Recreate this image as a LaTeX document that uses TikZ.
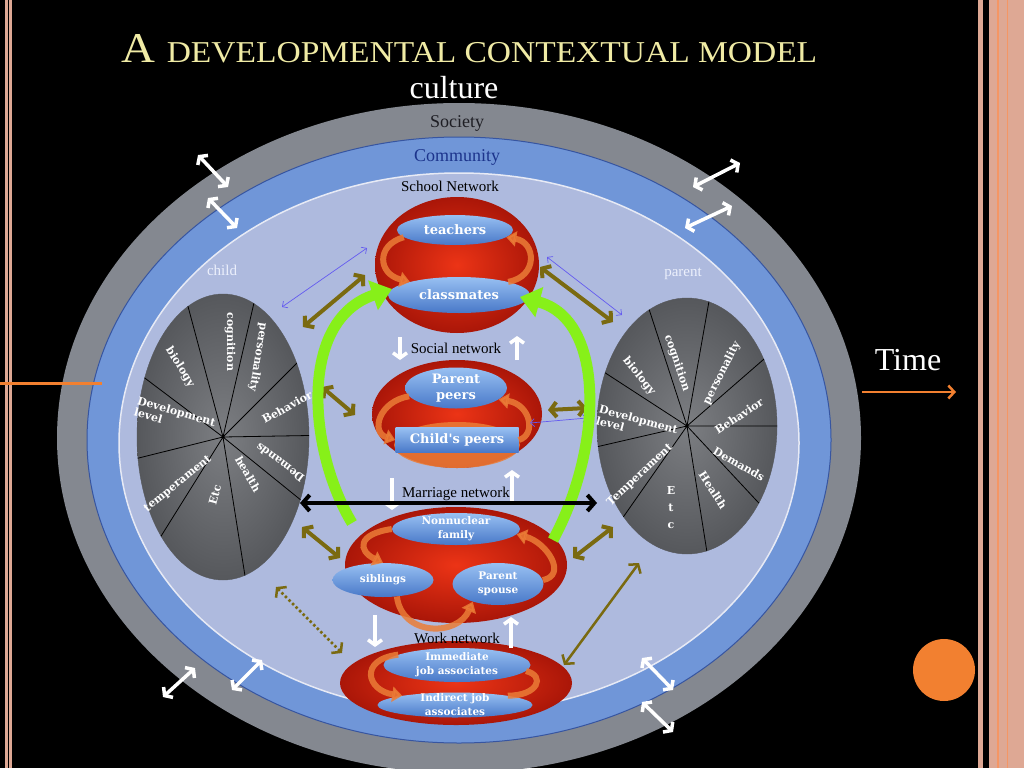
\documentclass[tikz,border=0pt]{standalone}
\usepackage{fontspec}
\usepackage{graphicx}
\setmainfont{Liberation Serif}
\newfontfamily\pillfont{DejaVu Serif}
\usetikzlibrary{positioning,arrows.meta,shapes.geometric}

\definecolor{titleyellow}{RGB}{240,235,165}
\definecolor{labeldark}{RGB}{30,30,36}
\definecolor{communitytext}{RGB}{28,52,140}
\definecolor{childwhite}{RGB}{236,240,252}
\definecolor{societygray}{RGB}{132,136,144}
\definecolor{communityblue}{RGB}{112,150,216}
\definecolor{communityline}{RGB}{55,85,160}
\definecolor{schoollav}{RGB}{174,186,222}
\definecolor{piegray}{RGB}{124,126,130}
\definecolor{piedark}{RGB}{86,88,92}
\definecolor{netred}{RGB}{236,52,22}
\definecolor{netdark}{RGB}{170,22,8}
\definecolor{pilltop}{RGB}{152,192,242}
\definecolor{pillbot}{RGB}{72,120,200}
\definecolor{oliveline}{RGB}{122,106,16}
\definecolor{linkblue}{RGB}{100,90,240}
\definecolor{brightgreen}{RGB}{135,240,25}
\definecolor{cycleorange}{RGB}{235,125,55}
\definecolor{timeorange}{RGB}{242,128,48}
\definecolor{framepink}{RGB}{222,168,148}
\definecolor{framelight}{RGB}{245,150,100}

\begin{document}
\begin{tikzpicture}[x=1pt, y=-1pt,
  pie/.style={ellipse, inner color=piegray, outer color=piedark, draw=piedark},
  pielabel/.style={text=white, inner sep=0pt, align=left, font=\pillfont\bfseries\fontsize{11}{11.5}\selectfont},
  net/.style={ellipse, inner color=netred, outer color=netdark},
  pill/.style={ellipse, top color=pilltop, bottom color=pillbot, text=white, inner sep=0pt, align=center, font=\pillfont\bfseries\fontsize{13}{16}\selectfont},
  smallpill/.style={pill, font=\pillfont\bfseries\fontsize{10.5}{14}\selectfont},
  pilltext/.style={text=white, inner sep=0pt, align=center, font=\pillfont\bfseries\fontsize{10.5}{14}\selectfont},
  netlabel/.style={anchor=base, inner sep=0pt, font=\fontsize{15}{15}\selectfont},
  cyclearrow/.style={draw=cycleorange, opacity=.85, line width=6pt, -{Triangle[length=10pt,width=15pt]}},
  ringarrow/.style={draw=white, line width=3.5pt, >={Straight Barb[length=5pt,width=14pt]}, <->},
  levelarrow/.style={draw=white, line width=3.5pt, ->, >={Straight Barb[length=5pt,width=14pt]}},
  linkarrow/.style={draw=oliveline, line width=4pt, >={Straight Barb[length=6pt,width=15pt]}, <->},
  thinlink/.style={draw=linkblue, line width=.7pt, >={Straight Barb[length=4pt,width=8pt]}, <->},
  bigarrow/.style={draw=brightgreen, line width=11pt, -{Triangle[length=20pt,width=30pt]}},
]
\useasboundingbox (0,0) rectangle (1024,768);
\fill[black] (0,0) rectangle (1024,768);

% frame
\fill[framepink] (5,0) rectangle (12,768);
\fill[black] (7.5,0) rectangle (9,768);
\fill[framepink] (978,0) rectangle (1024,768);
\fill[black] (983,0) rectangle (989,768);
\draw[framelight, line width=2pt] (998,0) -- (998,768);
\draw[framelight, line width=1pt] (1007,0) -- (1007,768);

% rings
\node (society) [ellipse, fill=societygray, minimum width=804, minimum height=670] at (459,438) {};
\node (community) [ellipse, fill=communityblue, draw=communityline, line width=1pt, minimum width=744, minimum height=606] at (459,440) {};
\node (schoolzone) [ellipse, fill=schoollav, draw=white!70!schoollav, line width=1.5pt, minimum width=680, minimum height=540] at (459,443) {};
\draw[timeorange, line width=3pt] (0,383) -- (102,383);

\node (title) [anchor=base west, inner sep=0pt, text=titleyellow] at (121,63) {\resizebox{696pt}{28pt}{\fontsize{42}{42}\selectfont A \fontsize{30}{30}\selectfont DEVELOPMENTAL CONTEXTUAL MODEL}};
\node (culture) [anchor=base, inner sep=0pt, text=white, font=\fontsize{32}{32}\selectfont] at (454,98) {culture};
\node (societylabel) [anchor=base, inner sep=0pt, text=labeldark, font=\fontsize{18}{18}\selectfont] at (457,127) {Society};
\node (communitylabel) [anchor=base, inner sep=0pt, text=communitytext, font=\fontsize{18}{18}\selectfont] at (457,161) {Community};
\node (schoollabel) [netlabel] at (450,191) {School Network};
\node (childlabel) [anchor=base, inner sep=0pt, text=childwhite, font=\fontsize{15}{15}\selectfont] at (222,275) {child};
\node (parentlabel) [anchor=base, inner sep=0pt, text=childwhite, font=\fontsize{15}{15}\selectfont] at (683,276) {parent};

% child
\node (lpie) [pie, minimum width=172, minimum height=286] at (223,437) {};
\draw[line width=.8pt] (lpie.center) -- (lpie.105) (lpie.center) -- (lpie.77)
  (lpie.center) -- (lpie.45) (lpie.center) -- (lpie.1) (lpie.center) -- (lpie.-39)
  (lpie.center) -- (lpie.-81) (lpie.center) -- (lpie.-122) (lpie.center) -- (lpie.-166)
  (lpie.center) -- (lpie.143);
\node (lcog) [pielabel, rotate=-90] at (230,342) {cognition};
\node (lpers) [pielabel, rotate=-99] at (258,357) {personality};
\node (lbio) [pielabel, rotate=-58] at (180,367) {biology};
\node (ldev) [pielabel, rotate=-16] at (175,417) {Development\\level};
\node (lbeh) [pielabel, rotate=29] at (287,407) {Behavior};
\node (ldem) [pielabel, rotate=143] at (280,463) {Demands};
\node (lhealth) [pielabel, rotate=-60] at (248,474) {health};
\node (letc) [pielabel, rotate=75] at (215,495) {Etc};
\node (ltemp) [pielabel, rotate=39] at (178,484) {temperament};

% parent
\node (rpie) [pie, minimum width=180, minimum height=256] at (687,426) {};
\draw[line width=.8pt] (rpie.center) -- (rpie.108) (rpie.center) -- (rpie.80)
  (rpie.center) -- (rpie.41) (rpie.center) -- (rpie.0) (rpie.center) -- (rpie.-47)
  (rpie.center) -- (rpie.-81) (rpie.center) -- (rpie.-125) (rpie.center) -- (rpie.-167)
  (rpie.center) -- (rpie.147);
\node (rcog) [pielabel, rotate=-71] at (677,363) {cognition};
\node (rpers) [pielabel, rotate=63] at (722,373) {personality};
\node (rbio) [pielabel, rotate=-51] at (639,376) {biology};
\node (rbeh) [pielabel, rotate=33] at (739,416) {Behavior};
\node (rdev) [pielabel, rotate=-15] at (637,425) {Development\\level};
\node (rdem) [pielabel, rotate=-30] at (739,464) {Demands};
\node (rhealth) [pielabel, rotate=-57] at (713,490) {Health};
\node (retc) [pielabel, align=center, font=\pillfont\bfseries\fontsize{11}{17}\selectfont] at (671,508) {E\\t\\c};
\node (rtemp) [pielabel, rotate=43] at (640,475) {Temperament};

% networks
\node (school) [net, minimum width=164, minimum height=136] at (457,265) {};
\node (social) [net, minimum width=170, minimum height=108] at (457,414) {};
\node (marriage) [net, minimum width=222, minimum height=116] at (456,565) {};
\node (work) [net, minimum width=232, minimum height=84] at (456,683) {};
\node (childglow) [ellipse, fill=cycleorange, opacity=.85, minimum width=126, minimum height=46] at (457,445) {};

\node (teachers) [pill, minimum width=116, minimum height=30] at (455,230) {teachers};
\node (classmates) [pill, minimum width=142, minimum height=36] at (459,295) {classmates};
\node (parentpeers) [pill, minimum width=102, minimum height=41] at (456,388) {Parent\\peers};
\node (childpeers) [pill, rectangle, minimum width=123, minimum height=25] at (457,440) {Child's peers};
\node (nonnuclear) [smallpill, minimum width=128, minimum height=32] at (456,529) {};
\node (siblings) [smallpill, minimum width=101, minimum height=34] at (383,580) {siblings};
\node (spouse) [smallpill, minimum width=91, minimum height=42] at (498,584) {};
\node (immediate) [smallpill, minimum width=147, minimum height=34] at (457,665) {};
\node (indirect) [smallpill, minimum width=155, minimum height=25] at (455,705) {};

\draw[cyclearrow] (teachers.188) .. controls +(-28,8) and +(-32,-8) .. (classmates.165);
\draw[cyclearrow] (classmates.15) .. controls +(30,-5) and +(30,5) .. (teachers.-8);
\draw[cyclearrow] (parentpeers.190) .. controls +(-30,5) and +(-25,-8) .. (childpeers.west);
\draw[cyclearrow] (childpeers.east) .. controls +(18,-5) and +(32,5) .. (parentpeers.-15);
\draw[cyclearrow] (nonnuclear.180) .. controls +(-35,5) and +(-25,-12) .. (siblings.north);
\draw[cyclearrow] (siblings.-50) .. controls +(5,40) and +(-15,35) .. (spouse.215);
\draw[cyclearrow] (spouse.5) .. controls +(25,-5) and +(30,8) .. (nonnuclear.-5);
\draw[cyclearrow] (immediate.170) .. controls +(-40,5) and +(-35,-5) .. (indirect.170);
\draw[cyclearrow, -] (indirect.10) .. controls +(30,0) and +(20,5) .. (immediate.-5);

\node (nonnucleartext) [pilltext] at (nonnuclear) {Nonnuclear\\family};
\node (spousetext) [pilltext] at (spouse) {Parent\\spouse};
\node (immediatetext) [pilltext] at (immediate) {Immediate\\job associates};
\node (indirecttext) [pilltext] at (indirect) {Indirect job\\associates};

\node (sociallabel) [netlabel] at (456,353) {Social network};
\node (marriagelabel) [netlabel] at (456,497) {Marriage network};
\node (worklabel) [netlabel] at (457,643) {Work network};

% links between levels
\coordinate (socdownA) at (400,337); \coordinate (socdownB) at (400,360);
\coordinate (socupA) at (517,360); \coordinate (socupB) at (517,336);
\coordinate (mardownA) at (392,478); \coordinate (mardownB) at (392,510);
\coordinate (marupA) at (512,502); \coordinate (marupB) at (512,470);
\coordinate (workdownA) at (375,615); \coordinate (workdownB) at (375,647);
\coordinate (workupA) at (511,648); \coordinate (workupB) at (511,617);
\draw[levelarrow] (socdownA) -- (socdownB);
\draw[levelarrow] (socupA) -- (socupB);
\draw[levelarrow] (mardownA) -- (mardownB);
\draw[levelarrow] (marupA) -- (marupB);
\draw[levelarrow] (workdownA) -- (workdownB);
\draw[levelarrow] (workupA) -- (workupB);

\coordinate (cschoolA) at (303,327); \coordinate (cschoolB) at (365,275);
\coordinate (pschoolA) at (540,267); \coordinate (pschoolB) at (613,322);
\coordinate (csocialA) at (322,387); \coordinate (csocialB) at (355,415);
\coordinate (psocialA) at (548,410); \coordinate (psocialB) at (587,408);
\coordinate (cmarA) at (302,527); \coordinate (cmarB) at (340,558);
\coordinate (pmarA) at (613,527); \coordinate (pmarB) at (573,558);
\coordinate (pworkA) at (639,563); \coordinate (pworkB) at (564,665);
\coordinate (cworkA) at (276,587); \coordinate (cworkB) at (342,653);
\draw[linkarrow] (cschoolA) -- (cschoolB);
\draw[linkarrow] (pschoolA) -- (pschoolB);
\draw[linkarrow] (csocialA) -- (csocialB);
\draw[linkarrow] (psocialA) -- (psocialB);
\draw[linkarrow] (cmarA) -- (cmarB);
\draw[linkarrow] (pmarA) -- (pmarB);
\draw[linkarrow, line width=2.5pt] (pworkA) -- (pworkB);
\draw[linkarrow, line width=2.5pt, dash pattern=on 2.5pt off 2.5pt] (cworkA) -- (cworkB);

\coordinate (cthinA) at (282,307); \coordinate (cthinB) at (367,248);
\coordinate (pthinA) at (547,257); \coordinate (pthinB) at (622,315);
\coordinate (sthinA) at (530,423); \coordinate (sthinB) at (587,418);
\draw[thinlink] (cthinA) -- (cthinB);
\draw[thinlink] (pthinA) -- (pthinB);
\draw[thinlink] (sthinA) -- (sthinB);

\coordinate (greenL) at (352,523); \coordinate (greenR) at (553,540);
\draw[bigarrow] (greenL) .. controls (308,450) and (298,320) .. (392,289);
\draw[bigarrow] (greenR) .. controls (602,450) and (607,320) .. (520,297);

\coordinate (marleft) at (300,503); \coordinate (marright) at (597,503);
\draw[draw=black, line width=4pt, >={Straight Barb[length=7pt,width=16pt]}, <->] (marleft) -- (marright);

% across the rings
\coordinate (ringA1) at (198,155); \coordinate (ringA2) at (228,187);
\coordinate (ringB1) at (208,198); \coordinate (ringB2) at (237,228);
\coordinate (ringC1) at (740,163); \coordinate (ringC2) at (693,187);
\coordinate (ringD1) at (732,206); \coordinate (ringD2) at (685,228);
\coordinate (ringE1) at (642,658); \coordinate (ringE2) at (673,690);
\coordinate (ringF1) at (642,702); \coordinate (ringF2) at (673,732);
\coordinate (ringG1) at (163,697); \coordinate (ringG2) at (195,668);
\coordinate (ringH1) at (232,690); \coordinate (ringH2) at (262,660);
\draw[ringarrow] (ringA1) -- (ringA2);
\draw[ringarrow] (ringB1) -- (ringB2);
\draw[ringarrow] (ringC1) -- (ringC2);
\draw[ringarrow] (ringD1) -- (ringD2);
\draw[ringarrow] (ringE1) -- (ringE2);
\draw[ringarrow] (ringF1) -- (ringF2);
\draw[ringarrow] (ringG1) -- (ringG2);
\draw[ringarrow] (ringH1) -- (ringH2);

% time
\node (timelabel) [anchor=base, inner sep=0pt, text=white, font=\fontsize{32}{32}\selectfont] at (908,370) {Time};
\coordinate (timestart) at (862,392); \coordinate (timeend) at (956,392);
\draw[timeorange, line width=2.5pt, ->, >={Straight Barb[length=6pt,width=13pt]}] (timestart) -- (timeend);
\node (timedot) [circle, fill=timeorange, minimum size=62] at (944,670) {};
\end{tikzpicture}
\end{document}
